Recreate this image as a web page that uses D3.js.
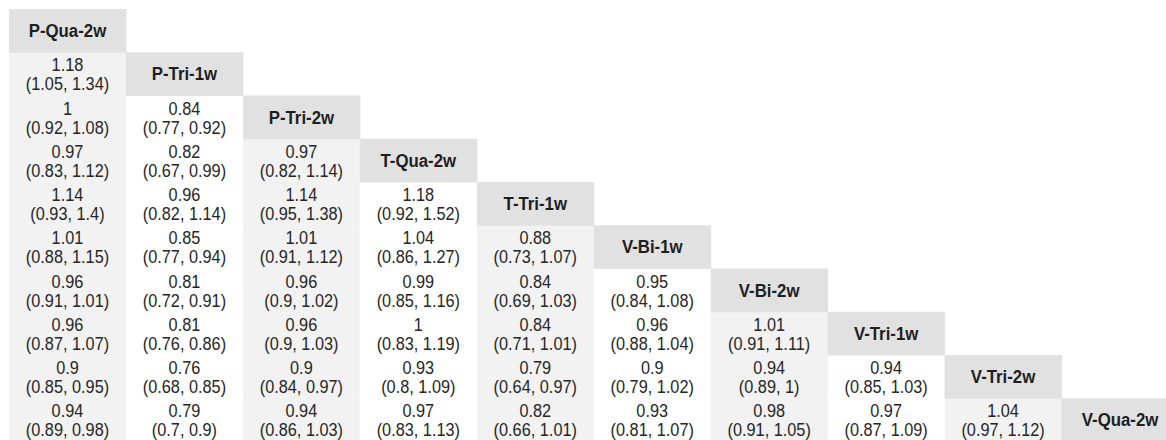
<!DOCTYPE html>
<html>
<head>
<meta charset="utf-8">
<script src="https://cdn.jsdelivr.net/npm/d3@7"></script>
<style>
  html, body { margin: 0; padding: 0; background: #ffffff; overflow: hidden; }
  svg { display: block; }
</style>
</head>
<body>
<svg id="chart" width="1166" height="440"></svg>
<script>
// Treatments (diagonal headers)
const treatments = ["P-Qua-2w", "P-Tri-1w", "P-Tri-2w", "T-Qua-2w", "T-Tri-1w",
                    "V-Bi-1w", "V-Bi-2w", "V-Tri-1w", "V-Tri-2w", "V-Qua-2w"];

// Lower-triangle estimates: row i (i = 1..9), columns 0..i-1
const estimates = [
  [],
  [1.18],
  [1, 0.84],
  [0.97, 0.82, 0.97],
  [1.14, 0.96, 1.14, 1.18],
  [1.01, 0.85, 1.01, 1.04, 0.88],
  [0.96, 0.81, 0.96, 0.99, 0.84, 0.95],
  [0.96, 0.81, 0.96, 1, 0.84, 0.96, 1.01],
  [0.9, 0.76, 0.9, 0.93, 0.79, 0.9, 0.94, 0.94],
  [0.94, 0.79, 0.94, 0.97, 0.82, 0.93, 0.98, 0.97, 1.04]
];
const lowerCI = [
  [],
  [1.05],
  [0.92, 0.77],
  [0.83, 0.67, 0.82],
  [0.93, 0.82, 0.95, 0.92],
  [0.88, 0.77, 0.91, 0.86, 0.73],
  [0.91, 0.72, 0.9, 0.85, 0.69, 0.84],
  [0.87, 0.76, 0.9, 0.83, 0.71, 0.88, 0.91],
  [0.85, 0.68, 0.84, 0.8, 0.64, 0.79, 0.89, 0.85],
  [0.89, 0.7, 0.86, 0.83, 0.66, 0.81, 0.91, 0.87, 0.97]
];
const upperCI = [
  [],
  [1.34],
  [1.08, 0.92],
  [1.12, 0.99, 1.14],
  [1.4, 1.14, 1.38, 1.52],
  [1.15, 0.94, 1.12, 1.27, 1.07],
  [1.01, 0.91, 1.02, 1.16, 1.03, 1.08],
  [1.07, 0.86, 1.03, 1.19, 1.01, 1.04, 1.11],
  [0.95, 0.85, 0.97, 1.09, 0.97, 1.02, 1, 1.03],
  [0.98, 0.9, 1.03, 1.13, 1.01, 1.07, 1.05, 1.09, 1.12]
];

// Build cell table from arrays
const cells = [];
estimates.forEach((row, i) => {
  row.forEach((v, j) => {
    cells.push({ row: treatments[i], col: treatments[j], colIndex: j,
                 est: String(v), ci: "(" + String(lowerCI[i][j]) + ", " + String(upperCI[i][j]) + ")" });
  });
});

const svg = d3.select("#chart");
const x = d3.scaleBand().domain(treatments).range([9, 9 + 116.95 * 10]).padding(0);
const y = d3.scaleBand().domain(treatments).range([9, 9 + 43.25 * 10]).padding(0);

const font = "'Liberation Sans', Arial, Helvetica, sans-serif";
const sy = 1.12; // slight vertical stretch of glyphs, as in the reference

// Body cells
const g = svg.append("g");
const cg = g.selectAll("g.cell").data(cells).join("g").attr("class", "cell")
  .attr("transform", d => `translate(${x(d.col)},${y(d.row)})`);
cg.append("rect")
  .attr("width", x.bandwidth() + 0.5)
  .attr("height", y.bandwidth() + 0.5)
  .attr("fill", d => d.colIndex % 2 === 0 ? "#f2f2f2" : "#ffffff");
cg.append("text")
  .attr("transform", `translate(${x.bandwidth() / 2},${y.bandwidth() / 2 - 2.5}) scale(1,${sy})`)
  .attr("text-anchor", "middle")
  .attr("font-family", font)
  .attr("font-size", 16.3)
  .attr("fill", "#262626")
  .text(d => d.est);
cg.append("text")
  .attr("transform", `translate(${x.bandwidth() / 2},${y.bandwidth() / 2 + 16.5}) scale(1,${sy})`)
  .attr("text-anchor", "middle")
  .attr("font-family", font)
  .attr("font-size", 16.3)
  .attr("fill", "#262626")
  .text(d => d.ci);

// Diagonal header cells
const hg = g.selectAll("g.head").data(treatments).join("g").attr("class", "head")
  .attr("transform", d => `translate(${x(d)},${y(d)})`);
hg.append("rect")
  .attr("width", x.bandwidth() + 0.5)
  .attr("height", y.bandwidth() + 0.5)
  .attr("fill", "#e1e1e1");
hg.append("text")
  .attr("transform", `translate(${x.bandwidth() / 2},${y.bandwidth() / 2 + 6.5}) scale(1,1.05)`)
  .attr("text-anchor", "middle")
  .attr("font-family", font)
  .attr("font-size", 16.8)
  .attr("font-weight", "bold")
  .attr("fill", "#1e1e1e")
  .text(d => d);
</script>
</body>
</html>
